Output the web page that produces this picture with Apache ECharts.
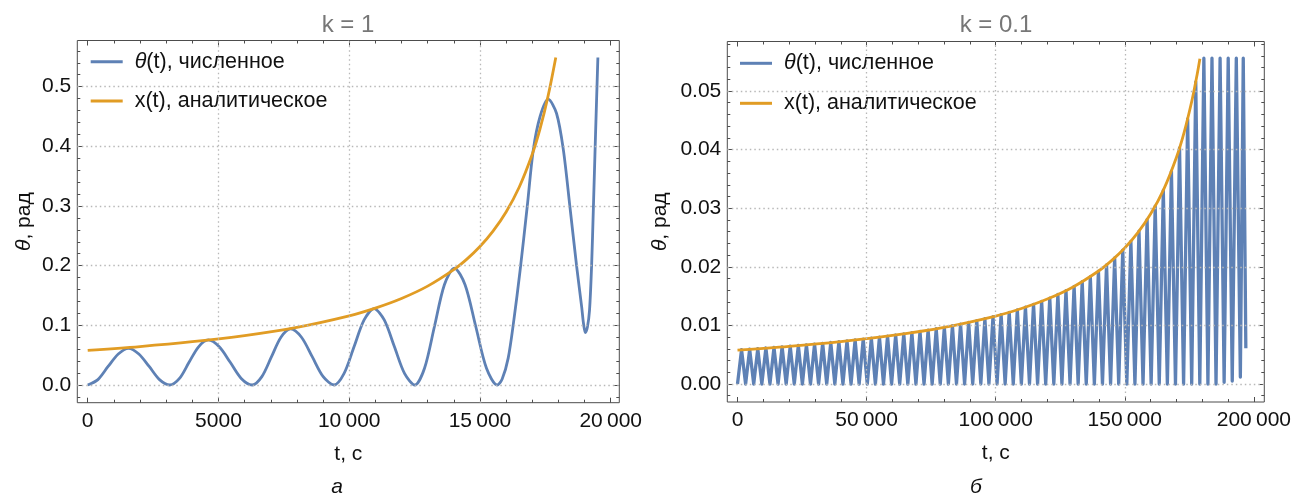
<!DOCTYPE html>
<html><head><meta charset="utf-8">
<script src="https://cdn.jsdelivr.net/npm/echarts@6/dist/echarts.min.js"></script>
<style>html,body{margin:0;padding:0;background:#fff}#c{width:1296px;height:497px}</style>
</head><body><div id="c"></div>
<script>
// ---------- data ----------
// left panel (k = 1)
const leftBlueT = [0, 390, 780, 1170, 1560, 1955, 2350, 2745, 3140, 3510, 3875, 4240, 4610, 5030, 5450, 5870, 6290, 6660, 7025, 7390, 7760, 8175, 8590, 9005, 9420, 9800, 10185, 10570, 10950, 11340, 11730, 12120, 12510, 12880, 13260, 13640, 14020, 14430, 14840, 15250, 15660, 15850, 16080, 16300, 16530, 16810, 17040, 17300, 17610, 17930, 18190, 18440, 18700, 18890, 18960, 19030, 19110, 19190, 19270, 19340, 19420, 19510];
const leftBlueV = [0, 0.009, 0.031, 0.052, 0.0615, 0.052, 0.031, 0.009, 0, 0.011, 0.038, 0.064, 0.0755, 0.064, 0.038, 0.011, 0, 0.014, 0.047, 0.080, 0.094, 0.080, 0.047, 0.014, 0, 0.019, 0.064, 0.109, 0.128, 0.109, 0.064, 0.019, 0, 0.028, 0.098, 0.168, 0.196, 0.168, 0.098, 0.028, 0, 0.010, 0.045, 0.11, 0.19, 0.30, 0.394, 0.450, 0.479, 0.455, 0.394, 0.299, 0.198, 0.131, 0.103, 0.0877, 0.097, 0.125, 0.20, 0.30, 0.42, 0.549];
const leftOrangeT = [0, 2000, 4000, 6000, 8000, 10000, 11000, 12000, 13000, 14000, 14500, 15000, 15500, 16000, 16500, 17000, 17300, 17600, 17900];
const leftOrangeV = [0.058, 0.0644, 0.0725, 0.0829, 0.0967, 0.116, 0.1289, 0.145, 0.1657, 0.1933, 0.2109, 0.232, 0.2578, 0.29, 0.3314, 0.3867, 0.4296, 0.4833, 0.549];

// right panel (k = 0.1)
const rightTroughT = [0, 3142, 6283, 9425, 12566, 15708, 18850, 21991, 25133, 28274, 31416, 34558, 37699, 40841, 43982, 47124, 50265, 53407, 56549, 59690, 62832, 65973, 69115, 72257, 75398, 78540, 81681, 84823, 87965, 91106, 94248, 97389, 100531, 103673, 106814, 109956, 113097, 116239, 119381, 122522, 125664, 128805, 131947, 135088, 138230, 141372, 144513, 147655, 150796, 153938, 157080, 160221, 163363, 166504, 169646, 172788, 175929, 179071, 182212, 185354, 188496, 191637, 194779];
const rightTroughV = [0,0,0,0,0,0,0,0,0,0, 0,0,0,0,0,0,0,0,0,0, 0,0,0,0,0,0,0,0,0,0, 0,0,0,0,0,0,0,0,0,0, 0,0,0,0,0,0,0,0,0,0, 0,0,0,0,0,0,0,0,0,0, 0.0003, 0.0005, 0.0012];
const rightPeakT = [1571, 4712, 7854, 10996, 14137, 17279, 20420, 23562, 26704, 29845, 32987, 36128, 39270, 42412, 45553, 48695, 51836, 54978, 58119, 61261, 64403, 67544, 70686, 73827, 76969, 80111, 83252, 86394, 89535, 92677, 95819, 98960, 102102, 105243, 108385, 111527, 114668, 117810, 120951, 124093, 127235, 130376, 133518, 136659, 139801, 142942, 146084, 149226, 152367, 155509, 158650, 161792, 164934, 168075, 171217, 174358, 177500, 180642, 183783, 186925, 190066, 193208, 195900];
const rightPeakV = [0.00585, 0.00594, 0.00604, 0.00614, 0.00624, 0.00635, 0.00646, 0.00657, 0.00669, 0.00682, 0.00695, 0.00708, 0.00722, 0.00736, 0.00751, 0.00767, 0.00783, 0.00800, 0.00818, 0.00836, 0.00856, 0.00876, 0.00897, 0.00919, 0.00943, 0.00968, 0.00994, 0.01021, 0.01050, 0.01081, 0.01114, 0.01148, 0.01185, 0.01224, 0.01266, 0.01311, 0.01359, 0.01411, 0.01467, 0.01528, 0.01594, 0.01666, 0.01745, 0.01831, 0.01927, 0.02033, 0.02151, 0.02285, 0.02435, 0.02607, 0.02805, 0.03036, 0.03308, 0.03634, 0.04031, 0.04524, 0.05156, 0.0556, 0.0556, 0.0556, 0.0556, 0.0556, 0.0556];
const rightEndT = [196900];
const rightEndV = [0.0061];
const rightOrangeT = [0, 20000, 40000, 60000, 80000, 100000, 110000, 120000, 130000, 140000, 145000, 150000, 155000, 160000, 165000, 170000, 173000, 176000, 178000, 179100];
const rightOrangeV = [0.0058, 0.00644, 0.00725, 0.00829, 0.00967, 0.0116, 0.01289, 0.0145, 0.01657, 0.01933, 0.02109, 0.0232, 0.02578, 0.029, 0.03314, 0.03867, 0.04296, 0.04833, 0.05273, 0.0555];

// ticks / labels
const leftXMajor = [0, 5000, 10000, 15000, 20000];
const leftXGrid = [5000, 10000, 15000];
const leftYMajor = [0, 0.1, 0.2, 0.3, 0.4, 0.5];
const rightXMajor = [0, 50000, 100000, 150000, 200000];
const rightXGrid = [50000, 100000, 150000];
const rightYMajor = [0, 0.01, 0.02, 0.03, 0.04, 0.05];
const titles = ['k = 1', 'k = 0.1'];
const captions = ['а', 'б'];
const legendNames = {thetaL: '{i|θ}(t), численное', xL: 'x(t), аналитическое', thetaR: '{i|θ}(t), численное', xR: 'x(t), аналитическое'};

// ---------- helpers ----------
function range(a, b, step, exclude) {
  const out = [];
  const n = Math.round((b - a) / step);
  for (let i = 0; i <= n; i++) {
    const v = +(a + i * step).toFixed(6);
    if (!exclude.some(e => Math.abs(e - v) < step / 10)) out.push(v);
  }
  return out;
}
const leftXMinor = range(1000, 19000, 1000, leftXMajor);
const leftYMinor = range(-0.02, 0.56, 0.02, leftYMajor);
const rightXMinor = range(10000, 190000, 10000, rightXMajor);
const rightYMinor = range(-0.002, 0.058, 0.002, rightYMajor);

function fmtX(v) {
  if (v >= 10000) {
    const s = String(Math.round(v));
    return s.slice(0, s.length - 3) + '\u2009' + s.slice(-3);
  }
  return String(v);
}

const FONT = 'Liberation Sans';
const FRAME = '#4d4d4d';
const TXT = '#111';
const BLUE = '#5E81B5';
const ORANGE = '#E19C24';
const GRIDC = '#b8b8b8';

function tick(len, vals) {
  return {show: true, inside: true, length: len, customValues: vals, lineStyle: {color: FRAME, width: 1}};
}
function xAxes(g, min, max, major, minor) {
  const base = {gridIndex: g, type: 'value', min: min, max: max, axisLine: {show: false, onZero: false}, splitLine: {show: false}};
  return [
    Object.assign({}, base, {position: 'bottom', axisTick: tick(5, major),
      axisLabel: {show: true, customValues: major, formatter: fmtX, margin: 8, fontSize: 21, color: TXT, fontFamily: FONT},
      name: 't, с', nameLocation: 'middle', nameGap: 41,
      nameTextStyle: {fontSize: 21, color: TXT, fontFamily: FONT}}),
    Object.assign({}, base, {position: 'bottom', axisTick: tick(3, minor), axisLabel: {show: false}}),
    Object.assign({}, base, {position: 'top', axisTick: tick(5, major), axisLabel: {show: false}}),
    Object.assign({}, base, {position: 'top', axisTick: tick(3, minor), axisLabel: {show: false}})
  ];
}
function yAxes(g, min, max, major, minor, digits, gap) {
  const base = {gridIndex: g, type: 'value', min: min, max: max, axisLine: {show: false, onZero: false}, splitLine: {show: false}};
  return [
    Object.assign({}, base, {position: 'left', axisTick: tick(5, major),
      axisLabel: {show: true, customValues: major, formatter: v => v.toFixed(digits), margin: 6, fontSize: 21, color: TXT, fontFamily: FONT},
      name: '{i|θ}, рад', nameLocation: 'middle', nameGap: gap, nameRotate: 90,
      nameTextStyle: {fontSize: 21, color: TXT, fontFamily: FONT,
        rich: {i: {fontStyle: 'italic', fontSize: 21, color: TXT, fontFamily: FONT}}}}),
    Object.assign({}, base, {position: 'left', axisTick: tick(3, minor), axisLabel: {show: false}}),
    Object.assign({}, base, {position: 'right', axisTick: tick(5, major), axisLabel: {show: false}}),
    Object.assign({}, base, {position: 'right', axisTick: tick(3, minor), axisLabel: {show: false}})
  ];
}

function zip(t, v) { return t.map((x, i) => [x, v[i]]); }
function zigzag(tt, tv, pt, pv, et, ev) {
  const d = [];
  for (let i = 0; i < tt.length; i++) {
    d.push([tt[i], tv[i]]);
    if (i < pt.length) d.push([pt[i], pv[i]]);
  }
  for (let i = 0; i < et.length; i++) d.push([et[i], ev[i]]);
  return d;
}

function gridSeries(xi, yi, xs, ys) {
  return {type: 'line', xAxisIndex: xi, yAxisIndex: yi, data: [], z: 1, silent: true,
    markLine: {silent: true, symbol: ['none', 'none'], label: {show: false}, animation: false,
      lineStyle: {color: GRIDC, type: [1.5, 3], width: 1.3},
      data: xs.map(v => ({xAxis: v})).concat(ys.map(v => ({yAxis: v})))}};
}

const legendBase = {orient: 'vertical', icon: 'rect', itemWidth: 32, itemHeight: 3, padding: 0, selectedMode: false,
  formatter: n => legendNames[n],
  textStyle: {fontSize: 21.5, color: TXT, fontFamily: FONT, padding: [0, 0, 0, 7], lineHeight: 22,
    rich: {i: {fontStyle: 'italic', fontSize: 21.5, color: TXT, fontFamily: FONT}}}};

const option = {
  animation: false,
  backgroundColor: '#fff',
  textStyle: {fontFamily: FONT},
  title: [
    {text: titles[0], left: 348, top: 13, textAlign: 'center', padding: 0, textStyle: {fontSize: 24, fontWeight: 'normal', color: '#777', fontFamily: FONT}},
    {text: titles[1], left: 996, top: 13, textAlign: 'center', padding: 0, textStyle: {fontSize: 24, fontWeight: 'normal', color: '#777', fontFamily: FONT}},
    {text: captions[0], left: 337, top: 477, textAlign: 'center', padding: 0, textStyle: {fontSize: 21, fontWeight: 'normal', fontStyle: 'italic', color: TXT, fontFamily: FONT}},
    {text: captions[1], left: 976, top: 477, textAlign: 'center', padding: 0, textStyle: {fontSize: 21, fontWeight: 'normal', fontStyle: 'italic', color: TXT, fontFamily: FONT}}
  ],
  legend: [
    Object.assign({}, legendBase, {data: ['thetaL'], left: 90.7, top: 50.7}),
    Object.assign({}, legendBase, {data: ['xL'], left: 90.7, top: 90}),
    Object.assign({}, legendBase, {data: ['thetaR'], left: 740, top: 52.3}),
    Object.assign({}, legendBase, {data: ['xR'], left: 740, top: 92.3})
  ],
  grid: [
    {left: 77.3, top: 40.5, width: 542, height: 362.2, show: true, borderColor: FRAME, borderWidth: 1, backgroundColor: 'transparent', containLabel: false, outerBoundsMode: 'none'},
    {left: 727.3, top: 41.5, width: 537, height: 360.5, show: true, borderColor: FRAME, borderWidth: 1, backgroundColor: 'transparent', containLabel: false, outerBoundsMode: 'none'}
  ],
  xAxis: xAxes(0, -398, 20329, leftXMajor, leftXMinor).concat(xAxes(1, -3950, 204050, rightXMajor, rightXMinor)),
  yAxis: yAxes(0, -0.0297, 0.5774, leftYMajor, leftYMinor, 1, 43).concat(yAxes(1, -0.00307, 0.05845, rightYMajor, rightYMinor, 2, 57)),
  series: [
    gridSeries(0, 0, leftXGrid, leftYMajor),
    gridSeries(4, 4, rightXGrid, rightYMajor),
    {name: 'thetaL', type: 'line', xAxisIndex: 0, yAxisIndex: 0, data: zip(leftBlueT, leftBlueV), smooth: 0.3,
      symbol: 'none', showSymbol: false, z: 3, lineStyle: {color: BLUE, width: 2.8}, itemStyle: {color: BLUE}},
    {name: 'xL', type: 'line', xAxisIndex: 0, yAxisIndex: 0, data: zip(leftOrangeT, leftOrangeV), smooth: 0.35,
      symbol: 'none', showSymbol: false, z: 4, lineStyle: {color: ORANGE, width: 2.8}, itemStyle: {color: ORANGE}},
    {name: 'thetaR', type: 'line', xAxisIndex: 4, yAxisIndex: 4, data: zigzag(rightTroughT, rightTroughV, rightPeakT, rightPeakV, rightEndT, rightEndV), smooth: false,
      symbol: 'none', showSymbol: false, z: 3, lineStyle: {color: BLUE, width: 3.3, join: 'round'}, itemStyle: {color: BLUE}},
    {name: 'xR', type: 'line', xAxisIndex: 4, yAxisIndex: 4, data: zip(rightOrangeT, rightOrangeV), smooth: 0.35,
      symbol: 'none', showSymbol: false, z: 4, lineStyle: {color: ORANGE, width: 2.8}, itemStyle: {color: ORANGE}}
  ]
};
const chart = echarts.init(document.getElementById('c'), null, {renderer: 'canvas'});
chart.setOption(option);
</script></body></html>
